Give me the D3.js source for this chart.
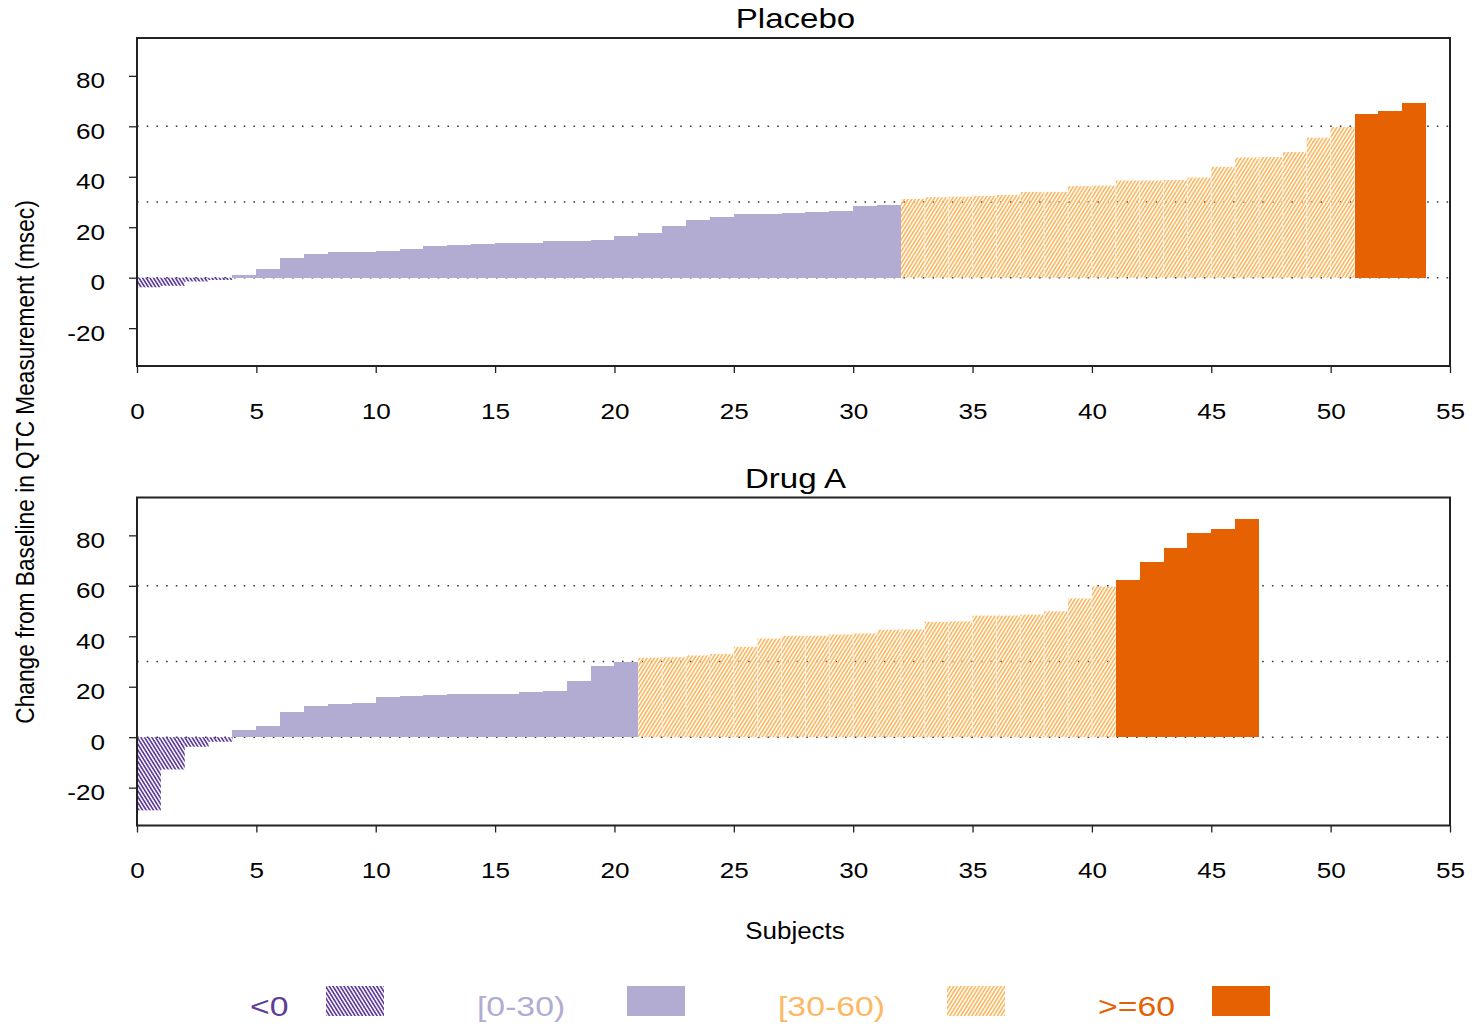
<!DOCTYPE html>
<html>
<head>
<meta charset="utf-8">
<script src="https://cdn.jsdelivr.net/npm/d3@7"></script>
<style>
  body { margin: 0; background: #fff; }
  svg { display: block; font-family: "Liberation Sans", Arial, sans-serif; }
</style>
</head>
<body>
<svg id="chart" width="1476" height="1027"></svg>
<script>
// Change from baseline in QTc (msec), one value per subject, sorted ascending
const placeboValues = [
  -3.8, -3.2, -1.5, -0.9, 1.1, 3.4, 7.8, 9.4, 10.2, 10.2,
  10.6, 11.4, 12.6, 13.0, 13.4, 13.8, 13.8, 14.6, 14.6, 14.9,
  16.5, 17.7, 20.5, 22.9, 24.1, 25.3, 25.3, 25.6, 26.0, 26.4,
  28.4, 28.8, 31.2, 31.9, 32.1, 32.4, 32.8, 34.0, 34.0, 36.3,
  36.5, 38.5, 38.5, 38.7, 39.7, 43.9, 47.6, 47.8, 49.8, 55.5,
  59.7, 64.9, 66.1, 69.2
];
const drugAValues = [
  -29.0, -12.8, -3.8, -1.8, 2.8, 4.6, 9.8, 12.2, 13.0, 13.4,
  15.8, 16.5, 16.9, 17.3, 17.3, 17.3, 18.1, 18.5, 22.1, 28.4,
  29.8, 31.5, 31.7, 32.4, 33.0, 35.8, 39.1, 40.2, 40.2, 40.7,
  41.1, 42.6, 42.7, 45.7, 45.9, 48.2, 48.2, 48.6, 49.9, 55.0,
  59.7, 62.5, 69.6, 74.8, 81.1, 82.7, 86.3
];
const panelTitles = ["Placebo", "Drug A"];
const categories = ["<0", "[0-30)", "[30-60)", ">=60"];
const categoryLimits = [0, 30, 60];
const categoryColors = ["#5e3c99", "#b2abd2", "#fdb863", "#e66101"];
const categoryHatched = [true, false, true, false];
const xTickValues = [0, 5, 10, 15, 20, 25, 30, 35, 40, 45, 50, 55];
const yTickValues = [-20, 0, 20, 40, 60, 80];
const referenceLines = [0, 30, 60];
const xDomain = [0, 55];
const yDomain = [-35, 95];

const svg = d3.select("#chart");
const font = "'Liberation Sans', Arial, sans-serif";

// layout
const left = 137, right = 1450, panelH = 328;
const panelTops = [38, 497.5];
const stretch = 1.16;
const plainNumber = d => String(d);

function categoryOf(v) {
  let c = 0;
  while (c < categoryLimits.length && v >= categoryLimits[c]) c++;
  return c;
}

// hatch patterns
const defs = svg.append("defs");
function hatch(id, color, angle) {
  const p = defs.append("pattern")
    .attr("id", id)
    .attr("patternUnits", "userSpaceOnUse")
    .attr("width", 3.1).attr("height", 10)
    .attr("patternTransform", `rotate(${angle})`);
  p.append("line")
    .attr("x1", 1.55).attr("y1", -1).attr("x2", 1.55).attr("y2", 11)
    .attr("stroke", color).attr("stroke-width", 1.7);
}
hatch("hatch-0", categoryColors[0], -32);
hatch("hatch-2", categoryColors[2], 32);
const fillFor = c => categoryHatched[c] ? `url(#hatch-${c})` : categoryColors[c];

const x = d3.scaleLinear().domain(xDomain).range([left, right]);

function drawPanel(values, title, top) {
  const y = d3.scaleLinear().domain(yDomain).range([top + panelH, top]);
  const g = svg.append("g");

  // dotted reference lines
  g.selectAll("line.ref").data(referenceLines).join("line")
    .attr("class", "ref")
    .attr("x1", left).attr("x2", right)
    .attr("y1", d => y(d)).attr("y2", d => y(d))
    .attr("stroke", "#3a3a3a").attr("stroke-width", 1.6)
    .attr("stroke-dasharray", "1.6 8.1");

  const bars = values.map((v, i) => ({ i, v, c: categoryOf(v) }));

  g.selectAll("rect.bar").data(bars).join("rect")
    .attr("class", "bar")
    .attr("x", d => x(d.i))
    .attr("width", d => x(d.i + 1) - x(d.i))
    .attr("y", d => y(Math.max(d.v, 0)))
    .attr("height", d => Math.abs(y(d.v) - y(0)))
    .attr("fill", d => fillFor(d.c))
    .attr("shape-rendering", d => categoryHatched[d.c] ? null : "crispEdges");

  // faint seams between neighbouring hatched bars
  const seams = bars.filter(d => d.i > 0 && d.c === 2 && bars[d.i - 1].c === 2);
  g.selectAll("line.seam").data(seams).join("line")
    .attr("class", "seam")
    .attr("x1", d => x(d.i)).attr("x2", d => x(d.i))
    .attr("y1", d => y(Math.min(d.v, bars[d.i - 1].v)))
    .attr("y2", y(0))
    .attr("stroke", "#fff").attr("stroke-width", 1.1)
    .attr("stroke-dasharray", "2 2").attr("opacity", 0.85);

  // frame
  g.append("rect")
    .attr("x", left).attr("y", top)
    .attr("width", right - left).attr("height", panelH)
    .attr("fill", "none").attr("stroke", "#222").attr("stroke-width", 2);

  // x axis
  const xa = g.append("g")
    .attr("transform", `translate(0,${top + panelH})`)
    .call(d3.axisBottom(x).tickValues(xTickValues).tickFormat(plainNumber)
      .tickSize(7).tickSizeOuter(0).tickPadding(30));
  xa.select(".domain").remove();
  xa.selectAll(".tick line").attr("stroke", "#222").attr("stroke-width", 1.3);
  xa.selectAll(".tick text")
    .attr("font-family", font).attr("font-size", 22.5).attr("fill", "#000")
    .attr("transform", `scale(${stretch},1)`);

  // y axis
  const ya = g.append("g")
    .attr("transform", `translate(${left},0)`)
    .call(d3.axisLeft(y).tickValues(yTickValues).tickFormat(plainNumber)
      .tickSize(8).tickSizeOuter(0));
  ya.select(".domain").remove();
  ya.selectAll(".tick line").attr("stroke", "#222").attr("stroke-width", 1.3);
  ya.selectAll(".tick text")
    .attr("font-family", font).attr("font-size", 22.5).attr("fill", "#000")
    .attr("x", -32 / stretch).attr("dy", null).attr("y", 12)
    .attr("transform", `scale(${stretch},1)`);

  // title
  svg.append("text")
    .attr("transform", `translate(795.5,${top - 10}) scale(${stretch},1)`)
    .attr("text-anchor", "middle")
    .attr("font-family", font).attr("font-size", 28.5)
    .text(title);
}

drawPanel(placeboValues, panelTitles[0], panelTops[0]);
drawPanel(drugAValues, panelTitles[1], panelTops[1]);

// shared axis titles
svg.append("text")
  .attr("transform", `translate(795,938.5) scale(1.13,1)`)
  .attr("text-anchor", "middle")
  .attr("font-family", font).attr("font-size", 23)
  .text("Subjects");

svg.append("text")
  .attr("transform", `translate(33.5,462) rotate(-90) scale(1,1.12)`)
  .attr("text-anchor", "middle")
  .attr("font-family", font).attr("font-size", 22.7)
  .text("Change from Baseline in QTC Measurement (msec)");

// legend
const legendText = [251, 478, 779, 1099];
const legendSwatch = [326, 627, 947, 1212];
const lg = svg.append("g");
categories.forEach((cat, c) => {
  lg.append("text")
    .attr("transform", `translate(${legendText[c] - 1},1015.5) scale(1.25,1)`)
    .attr("font-family", font).attr("font-size", 27)
    .attr("fill", categoryColors[c])
    .text(cat);
  lg.append("rect")
    .attr("x", legendSwatch[c]).attr("y", 986)
    .attr("width", 58).attr("height", 30)
    .attr("fill", fillFor(c));
});
</script>
</body>
</html>
